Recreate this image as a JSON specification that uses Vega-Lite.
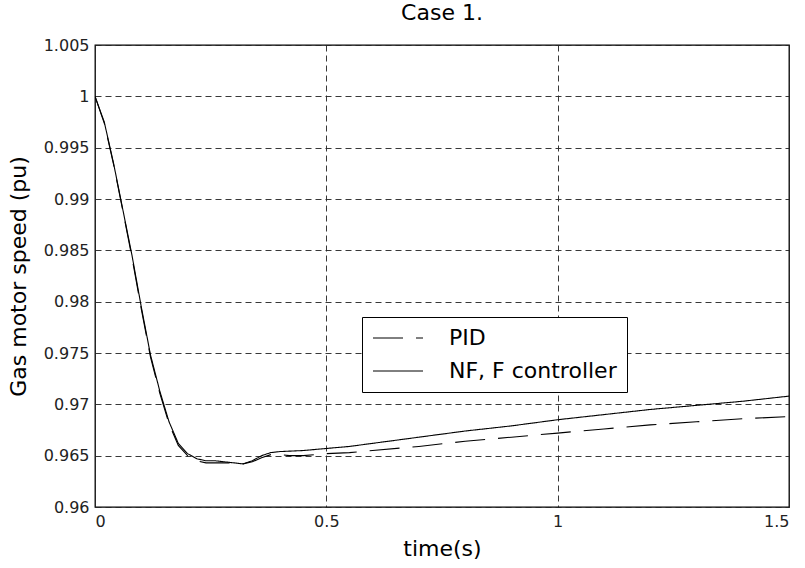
{
  "$schema": "https://vega.github.io/schema/vega-lite/v6.json",
  "autosize": {"type": "none"},
  "padding": {"left": 95, "top": 45, "right": 16, "bottom": 61},
  "width": 694,
  "height": 462,
  "background": "white",
  "title": {"text": "Case 1.", "fontSize": 22, "fontWeight": "normal", "font": "DejaVu Sans", "color": "black", "offset": 12},
  "config": {
    "title": {"fontSize": 22, "font": "DejaVu Sans", "fontWeight": "normal", "color": "black"},
    "view": {"stroke": "black", "strokeWidth": 1.3},
    "axis": {"labelFont": "DejaVu Sans", "titleFont": "DejaVu Sans", "labelColor": "#222", "titleColor": "black", "labelFontSize": 16, "titleFontSize": 22, "titleFontWeight": "normal", "grid": true, "gridColor": "#222", "gridDash": [6, 4], "gridOpacity": 0.9, "domain": false, "ticks": false}
  },
  "data": {"values": [
    {"series": "NF, F controller", "t": 0, "v": 1.0},
    {"series": "NF, F controller", "t": 0.02, "v": 0.9975},
    {"series": "NF, F controller", "t": 0.04, "v": 0.9935},
    {"series": "NF, F controller", "t": 0.06, "v": 0.989},
    {"series": "NF, F controller", "t": 0.08, "v": 0.9845},
    {"series": "NF, F controller", "t": 0.10, "v": 0.9795},
    {"series": "NF, F controller", "t": 0.12, "v": 0.9748},
    {"series": "NF, F controller", "t": 0.14, "v": 0.9713},
    {"series": "NF, F controller", "t": 0.16, "v": 0.9683},
    {"series": "NF, F controller", "t": 0.18, "v": 0.9662},
    {"series": "NF, F controller", "t": 0.20, "v": 0.9652},
    {"series": "NF, F controller", "t": 0.22, "v": 0.9647},
    {"series": "NF, F controller", "t": 0.24, "v": 0.9645},
    {"series": "NF, F controller", "t": 0.26, "v": 0.9645},
    {"series": "NF, F controller", "t": 0.28, "v": 0.9644},
    {"series": "NF, F controller", "t": 0.30, "v": 0.9643},
    {"series": "NF, F controller", "t": 0.32, "v": 0.9642},
    {"series": "NF, F controller", "t": 0.34, "v": 0.9645},
    {"series": "NF, F controller", "t": 0.36, "v": 0.965},
    {"series": "NF, F controller", "t": 0.38, "v": 0.9653},
    {"series": "NF, F controller", "t": 0.40, "v": 0.9654},
    {"series": "NF, F controller", "t": 0.45, "v": 0.9655},
    {"series": "NF, F controller", "t": 0.50, "v": 0.9657},
    {"series": "NF, F controller", "t": 0.55, "v": 0.9659},
    {"series": "NF, F controller", "t": 0.60, "v": 0.9662},
    {"series": "NF, F controller", "t": 0.70, "v": 0.9668},
    {"series": "NF, F controller", "t": 0.80, "v": 0.9674},
    {"series": "NF, F controller", "t": 0.90, "v": 0.9679},
    {"series": "NF, F controller", "t": 1.00, "v": 0.9685},
    {"series": "NF, F controller", "t": 1.10, "v": 0.969},
    {"series": "NF, F controller", "t": 1.20, "v": 0.9695},
    {"series": "NF, F controller", "t": 1.30, "v": 0.9699},
    {"series": "NF, F controller", "t": 1.40, "v": 0.9703},
    {"series": "NF, F controller", "t": 1.50, "v": 0.9708},
    {"series": "PID", "t": 0, "v": 1.0},
    {"series": "PID", "t": 0.02, "v": 0.9974},
    {"series": "PID", "t": 0.04, "v": 0.9934},
    {"series": "PID", "t": 0.06, "v": 0.9889},
    {"series": "PID", "t": 0.08, "v": 0.9843},
    {"series": "PID", "t": 0.10, "v": 0.9793},
    {"series": "PID", "t": 0.12, "v": 0.9746},
    {"series": "PID", "t": 0.14, "v": 0.9711},
    {"series": "PID", "t": 0.16, "v": 0.9681},
    {"series": "PID", "t": 0.18, "v": 0.966},
    {"series": "PID", "t": 0.20, "v": 0.965},
    {"series": "PID", "t": 0.22, "v": 0.9645},
    {"series": "PID", "t": 0.24, "v": 0.9643},
    {"series": "PID", "t": 0.26, "v": 0.9643},
    {"series": "PID", "t": 0.28, "v": 0.9643},
    {"series": "PID", "t": 0.30, "v": 0.9643},
    {"series": "PID", "t": 0.32, "v": 0.9642},
    {"series": "PID", "t": 0.34, "v": 0.9644},
    {"series": "PID", "t": 0.36, "v": 0.9648},
    {"series": "PID", "t": 0.38, "v": 0.9651},
    {"series": "PID", "t": 0.40, "v": 0.9651},
    {"series": "PID", "t": 0.42, "v": 0.965},
    {"series": "PID", "t": 0.45, "v": 0.965},
    {"series": "PID", "t": 0.50, "v": 0.9652},
    {"series": "PID", "t": 0.55, "v": 0.9653},
    {"series": "PID", "t": 0.60, "v": 0.9655},
    {"series": "PID", "t": 0.70, "v": 0.9659},
    {"series": "PID", "t": 0.80, "v": 0.9664},
    {"series": "PID", "t": 0.90, "v": 0.9668},
    {"series": "PID", "t": 1.00, "v": 0.9672},
    {"series": "PID", "t": 1.10, "v": 0.9676},
    {"series": "PID", "t": 1.20, "v": 0.968},
    {"series": "PID", "t": 1.30, "v": 0.9683},
    {"series": "PID", "t": 1.40, "v": 0.9686},
    {"series": "PID", "t": 1.50, "v": 0.9688}
  ]},
  "mark": {"type": "line", "color": "black", "strokeWidth": 1.1, "clip": true},
  "encoding": {
    "x": {"field": "t", "type": "quantitative", "title": "time(s)", "scale": {"domain": [0, 1.5], "nice": false, "zero": false}, "axis": {"values": [0, 0.5, 1, 1.5], "labelExpr": "format(datum.value, '~g')", "labelPadding": 6, "titlePadding": 9}},
    "y": {"field": "v", "type": "quantitative", "title": "Gas motor speed (pu)", "scale": {"domain": [0.96, 1.005], "nice": false, "zero": false}, "axis": {"values": [0.96, 0.965, 0.97, 0.975, 0.98, 0.985, 0.99, 0.995, 1, 1.005], "labelExpr": "format(datum.value, '~g')", "labelPadding": 6, "titlePadding": 13}},
    "strokeDash": {"field": "series", "type": "nominal", "scale": {"domain": ["PID", "NF, F controller"], "range": [[30, 13], [1, 0]]}, "legend": {"title": null, "orient": "none", "legendX": 267, "legendY": 272, "symbolType": "M-1,0H4", "symbolSize": 400, "symbolStrokeColor": "black", "symbolStrokeWidth": 1, "labelFont": "DejaVu Sans", "labelFontSize": 22, "labelLimit": 400, "labelColor": "black", "strokeColor": "black", "fillColor": "white", "padding": 10, "rowPadding": 11, "labelOffset": 55, "encode": {"symbols": {"update": {"strokeDash": {"signal": "datum.value === 'PID' ? [21, 8] : [1, 0]"}}}}}},
    "order": {"field": "t", "type": "quantitative"}
  }
}
